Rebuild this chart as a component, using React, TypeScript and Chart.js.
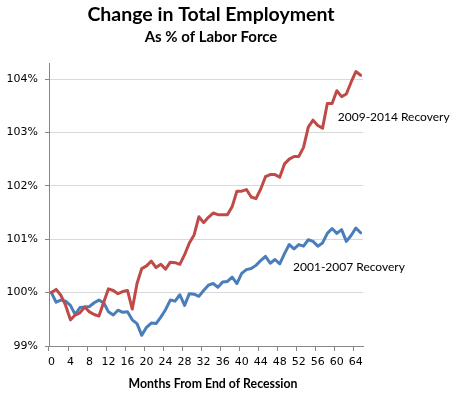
import React, { useEffect, useRef } from 'react';
import { Chart, registerables } from 'chart.js';

Chart.register(...registerables);

const months: string[] = [
  '0','1','2','3','4','5','6','7','8','9','10','11','12','13','14','15','16','17','18','19','20',
  '21','22','23','24','25','26','27','28','29','30','31','32','33','34','35','36','37','38','39','40',
  '41','42','43','44','45','46','47','48','49','50','51','52','53','54','55','56','57','58','59','60',
  '61','62','63','64','65',
];

const recovery2009: number[] = [
  100.00, 100.06, 99.95, 99.76, 99.49, 99.58, 99.62, 99.73, 99.64, 99.59, 99.56,
  99.82, 100.07, 100.04, 99.98, 100.02, 100.04, 99.69, 100.17, 100.45, 100.50,
  100.59, 100.47, 100.53, 100.44, 100.57, 100.56, 100.53, 100.71, 100.93, 101.08,
  101.42, 101.31, 101.41, 101.49, 101.46, 101.46, 101.46, 101.61, 101.90, 101.90,
  101.93, 101.79, 101.76, 101.94, 102.17, 102.21, 102.21, 102.16, 102.41, 102.50,
  102.55, 102.55, 102.72, 103.10, 103.23, 103.13, 103.08, 103.54, 103.54, 103.78,
  103.67, 103.72, 103.94, 104.14, 104.07,
];

const recovery2001: number[] = [
  100.00, 99.82, 99.86, 99.84, 99.76, 99.59, 99.72, 99.73, 99.74, 99.81, 99.86,
  99.81, 99.64, 99.58, 99.67, 99.63, 99.64, 99.49, 99.42, 99.20, 99.35,
  99.43, 99.42, 99.54, 99.68, 99.86, 99.84, 99.96, 99.76, 99.98, 99.97,
  99.93, 100.04, 100.14, 100.17, 100.10, 100.20, 100.21, 100.29, 100.17, 100.36,
  100.43, 100.45, 100.51, 100.60, 100.68, 100.55, 100.62, 100.54, 100.73, 100.90,
  100.82, 100.90, 100.87, 100.99, 100.96, 100.87, 100.93, 101.11, 101.20, 101.11,
  101.18, 100.96, 101.07, 101.21, 101.12,
];

const seriesNames: string[] = ['2009-2014 Recovery', '2001-2007 Recovery'];
const seriesColors: string[] = ['#BE4B48', '#4A7EBB'];
// anchor of each series label: [month index, value %]
const labelAnchors: [number, number][] = [[60.2, 103.28], [50.8, 100.47]];

const titleText = 'Change in Total Employment';
const subtitleText = 'As % of Labor Force';
const xTitleText = 'Months From End of Recession';

const textPlugin = {
  id: 'customText',
  afterDraw(chart: any) {
    const ctx = chart.ctx;
    const xs = chart.scales.x;
    const ys = chart.scales.y;
    ctx.save();
    ctx.fillStyle = '#000';
    ctx.textAlign = 'center';
    ctx.textBaseline = 'middle';
    ctx.font = 'bold 19.5px Lato';
    ctx.fillText(titleText, 211, 15);
    ctx.font = 'bold 15px Lato';
    ctx.fillText(subtitleText, 211, 37);
    ctx.font = 'bold 12.3px Lato';
    ctx.fillText(xTitleText, 213, 384);
    ctx.textAlign = 'left';
    ctx.font = '12px Lato';
    seriesNames.forEach((name, i) => {
      const [m, v] = labelAnchors[i];
      ctx.fillText(name, xs.getPixelForValue(m), ys.getPixelForValue(v));
    });
    ctx.restore();
  },
};

export default function App() {
  const canvasRef = useRef<HTMLCanvasElement>(null);

  useEffect(() => {
    document.body.style.margin = '0';
    document.body.style.overflow = 'hidden';
    const canvas = canvasRef.current;
    if (!canvas) return;
    const chart = new Chart(canvas, {
      type: 'line',
      data: {
        labels: months,
        datasets: [
          {
            label: seriesNames[0],
            data: recovery2009,
            borderColor: seriesColors[0],
            backgroundColor: seriesColors[0],
            borderWidth: 3,
            pointRadius: 0,
            tension: 0,
            borderJoinStyle: 'round',
            borderCapStyle: 'round',
          },
          {
            label: seriesNames[1],
            data: recovery2001,
            borderColor: seriesColors[1],
            backgroundColor: seriesColors[1],
            borderWidth: 3,
            pointRadius: 0,
            tension: 0,
            borderJoinStyle: 'round',
            borderCapStyle: 'round',
          },
        ],
      },
      options: {
        animation: false,
        responsive: true,
        maintainAspectRatio: false,
        layout: { padding: { left: 0, top: 63, right: 93, bottom: 0 } },
        plugins: {
          legend: { display: false },
          tooltip: { enabled: false },
          title: { display: false },
        },
        scales: {
          x: {
            type: 'category',
            offset: true,
            grid: {
              offset: true,
              drawOnChartArea: false,
              drawTicks: true,
              tickLength: 5,
              tickColor: (c: any) => (c.index % 4 === 0 ? '#868686' : 'rgba(0,0,0,0)'),
            },
            border: { color: '#868686', width: 1 },
            ticks: {
              autoSkip: false,
              maxRotation: 0,
              padding: 5,
              color: '#000',
              font: { family: 'DejaVu Sans', size: 11 },
              callback: (_v: any, i: number) => (i % 4 === 0 ? months[i] : ''),
            },
            afterFit: (s: any) => { s.height = 53; },
          },
          y: {
            min: 99,
            max: 104.3,
            grid: {
              color: '#D9D9D9',
              tickColor: '#868686',
              tickLength: 4,
            },
            border: { color: '#868686', width: 1 },
            ticks: {
              stepSize: 1,
              includeBounds: false,
              padding: 7,
              color: '#000',
              font: { family: 'DejaVu Sans', size: 11 },
              callback: (v: any) => (Number.isInteger(v) ? v + '%' : null),
            },
            afterFit: (s: any) => { s.width = 49; },
          },
        },
      },
      plugins: [textPlugin],
    } as any);
    return () => chart.destroy();
  }, []);

  return (
    <div style={{ width: 456, height: 399, position: 'relative' }}>
      <canvas ref={canvasRef} />
    </div>
  );
}
